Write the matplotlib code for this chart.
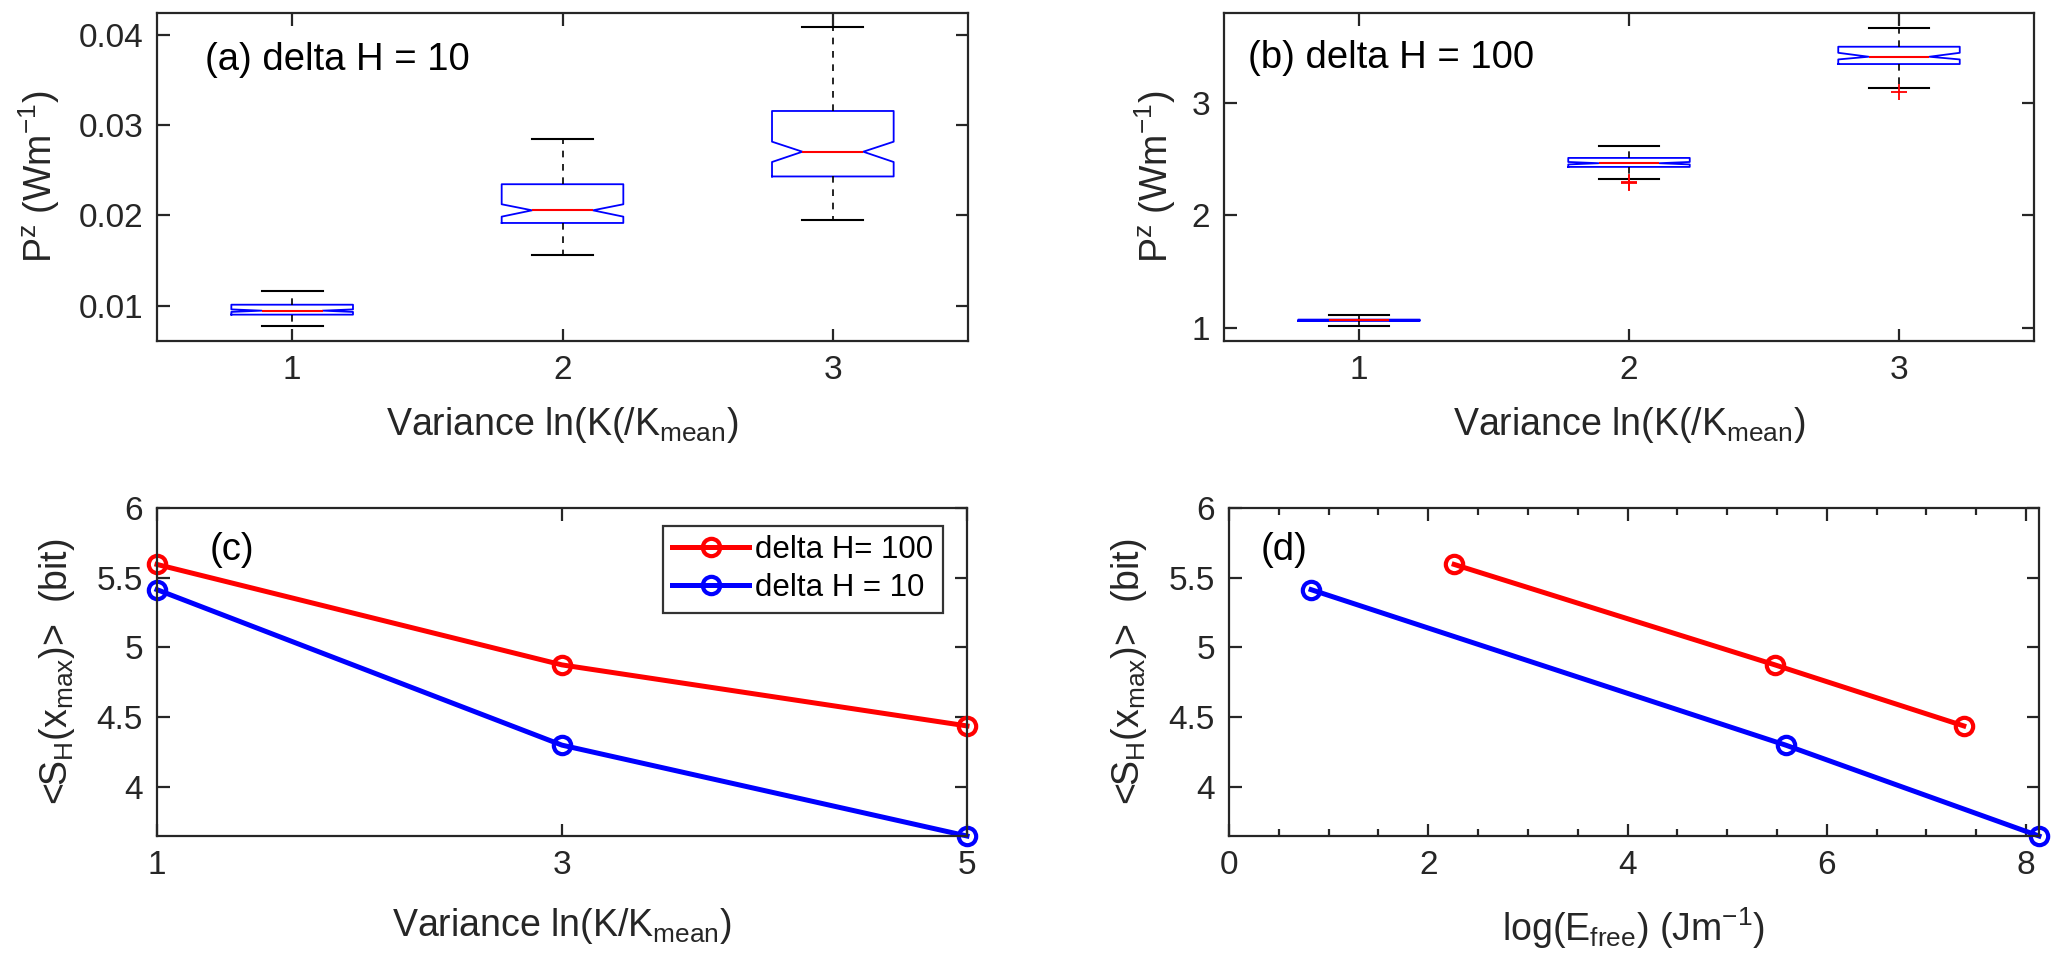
import matplotlib
matplotlib.use("Agg")
import matplotlib.pyplot as plt
from matplotlib.ticker import MultipleLocator

plt.rcParams['font.family'] = ['Liberation Sans', 'DejaVu Sans']
plt.rcParams['mathtext.fontset'] = 'custom'
plt.rcParams['mathtext.rm'] = 'Liberation Sans'
plt.rcParams['mathtext.it'] = 'Liberation Sans'

# ---------------- data ----------------
box_positions = [1, 2, 3]
box_ticklabels = ['1', '2', '3']

# panel (a): delta H = 10
a_med    = [0.00944, 0.02055, 0.02704]
a_q1     = [0.00900, 0.01915, 0.02430]
a_q3     = [0.01010, 0.02344, 0.03155]
a_whislo = [0.00778, 0.01563, 0.01948]
a_whishi = [0.01162, 0.02840, 0.04084]
a_cilo   = [0.00930, 0.01985, 0.02590]
a_cihi   = [0.00958, 0.02122, 0.02815]
a_fliers = [[], [], []]

# panel (b): delta H = 100
b_med    = [1.066, 2.463, 3.410]
b_q1     = [1.060, 2.430, 3.345]
b_q3     = [1.072, 2.510, 3.499]
b_whislo = [1.015, 2.323, 3.134]
b_whishi = [1.116, 2.620, 3.668]
b_cilo   = [1.063, 2.452, 3.386]
b_cihi   = [1.069, 2.474, 3.445]
b_fliers = [[], [2.300, 2.290], [3.095]]

# panels (c), (d)
variance = [1, 3, 5]
S_dH100 = [5.595, 4.874, 4.436]
S_dH10  = [5.414, 4.298, 3.646]
logE_dH100 = [2.26, 5.48, 7.375]
logE_dH10  = [0.824, 5.588, 8.13]

label_100 = 'delta H= 100'
label_10 = 'delta H = 10'

# ---------------- figure ----------------
W, H = 2067, 977
fig = plt.figure(figsize=(W / 100, H / 100), dpi=100)

def rect(l, t, r, b):
    return [l / W, 1 - b / H, (r - l) / W, (b - t) / H]

ax_a = fig.add_axes(rect(157, 13, 968, 341))
ax_b = fig.add_axes(rect(1224, 13, 2034, 341))
ax_c = fig.add_axes(rect(157, 508, 967, 836))
ax_d = fig.add_axes(rect(1229, 508, 2039, 836))

TXT = (0.15, 0.15, 0.15)
TICK_FS = 24
LAB_FS = 27
ANN_FS = 27.5
LEG_FS = 22.5

def style(ax):
    for s in ax.spines.values():
        s.set_linewidth(1.6)
        s.set_color(TXT)
    ax.tick_params(direction='in', which='both', top=True, right=True,
                   labelsize=TICK_FS, colors=TXT, width=1.6)
    ax.tick_params(which='major', length=9, pad=10)
    ax.tick_params(which='minor', length=5)

def make_stats(med, q1, q3, lo, hi, cilo, cihi, fl):
    out = []
    for i in range(len(med)):
        out.append(dict(med=med[i], q1=q1[i], q3=q3[i], whislo=lo[i],
                        whishi=hi[i], cilo=cilo[i], cihi=cihi[i],
                        fliers=fl[i]))
    return out

def draw_box(ax, stats):
    ax.bxp(stats, positions=box_positions, widths=0.45, shownotches=True,
           showfliers=True,
           boxprops=dict(color='blue', linewidth=1.3),
           medianprops=dict(color='red', linewidth=1.5),
           whiskerprops=dict(color='black', linewidth=1.2, linestyle=(0, (4, 4))),
           capprops=dict(color='black', linewidth=1.5),
           flierprops=dict(marker='+', markeredgecolor='red', markersize=12,
                           markeredgewidth=1.3, linestyle='none'))
    ax.set_xlim(0.5, 3.5)
    ax.set_xticks(box_positions)
    ax.set_xticklabels(box_ticklabels)

# (a)
draw_box(ax_a, make_stats(a_med, a_q1, a_q3, a_whislo, a_whishi, a_cilo, a_cihi, a_fliers))
ax_a.set_ylim(0.00608, 0.0424)
ax_a.set_yticks([0.01, 0.02, 0.03, 0.04])
ax_a.set_yticklabels(['0.01', '0.02', '0.03', '0.04'])
ax_a.set_ylabel(r'$\mathregular{P^z\ (Wm^{-1})}$', fontsize=LAB_FS, color=TXT, labelpad=12)
ax_a.set_xlabel(r'Variance ln(K(/K$\mathregular{_{mean}}$)', fontsize=LAB_FS, color=TXT, labelpad=14)
ax_a.text(0.059, 0.857, '(a) delta H = 10', transform=ax_a.transAxes,
          fontsize=ANN_FS, va='center', ha='left', color='black')
style(ax_a)

# (b)
draw_box(ax_b, make_stats(b_med, b_q1, b_q3, b_whislo, b_whishi, b_cilo, b_cihi, b_fliers))
ax_b.set_ylim(0.8816, 3.799)
ax_b.set_yticks([1, 2, 3])
ax_b.set_yticklabels(['1', '2', '3'])
ax_b.set_ylabel(r'$\mathregular{P^z\ (Wm^{-1})}$', fontsize=LAB_FS, color=TXT, labelpad=10)
ax_b.set_xlabel(r'Variance ln(K(/K$\mathregular{_{mean}}$)', fontsize=LAB_FS, color=TXT, labelpad=14)
ax_b.text(0.03, 0.863, '(b) delta H = 100', transform=ax_b.transAxes,
          fontsize=ANN_FS, va='center', ha='left', color='black')
style(ax_b)

line_kw = dict(linewidth=3.6, marker='o', markersize=12.5, markerfacecolor='none',
               markeredgewidth=3, clip_on=False)

# (c)
ax_c.plot(variance, S_dH100, color='red', label=label_100, **line_kw)
ax_c.plot(variance, S_dH10, color='blue', label=label_10, **line_kw)
ax_c.set_xlim(1, 5)
ax_c.set_ylim(3.646, 6)
ax_c.set_xticks(variance)
ax_c.set_yticks([4, 4.5, 5, 5.5, 6])
ax_c.set_yticklabels(['4', '4.5', '5', '5.5', '6'])
ax_c.set_ylabel(r'<S$\mathregular{_H}$(x$\mathregular{_{max}}$)>  (bit)', fontsize=LAB_FS, color=TXT, labelpad=14)
ax_c.set_xlabel(r'Variance ln(K/K$\mathregular{_{mean}}$)', fontsize=LAB_FS, color=TXT, labelpad=18)
ax_c.text(0.065, 0.873, '(c)', transform=ax_c.transAxes,
          fontsize=ANN_FS, va='center', ha='left', color='black')
leg = ax_c.legend(loc='upper right', bbox_to_anchor=(0.97, 0.945), fontsize=LEG_FS,
                  frameon=True, fancybox=False, edgecolor='black',
                  handlelength=2.45, handletextpad=0.2, borderpad=0.3,
                  labelspacing=0.25, borderaxespad=0)
leg.get_frame().set_linewidth(1.6)
style(ax_c)

# (d)
ax_d.plot(logE_dH100, S_dH100, color='red', **line_kw)
ax_d.plot(logE_dH10, S_dH10, color='blue', **line_kw)
ax_d.set_xlim(0, 8.13)
ax_d.set_ylim(3.646, 6)
ax_d.set_xticks([0, 2, 4, 6, 8])
ax_d.xaxis.set_minor_locator(MultipleLocator(0.5))
ax_d.set_yticks([4, 4.5, 5, 5.5, 6])
ax_d.set_yticklabels(['4', '4.5', '5', '5.5', '6'])
ax_d.set_ylabel(r'<S$\mathregular{_H}$(x$\mathregular{_{max}}$)>  (bit)', fontsize=LAB_FS, color=TXT, labelpad=14)
ax_d.set_xlabel(r'log(E$\mathregular{_{free}}$) (Jm$\mathregular{^{-1}}$)', fontsize=LAB_FS, color=TXT, labelpad=18)
ax_d.text(0.039, 0.873, '(d)', transform=ax_d.transAxes,
          fontsize=ANN_FS, va='center', ha='left', color='black')
style(ax_d)

fig.savefig('out.png', dpi=100)
